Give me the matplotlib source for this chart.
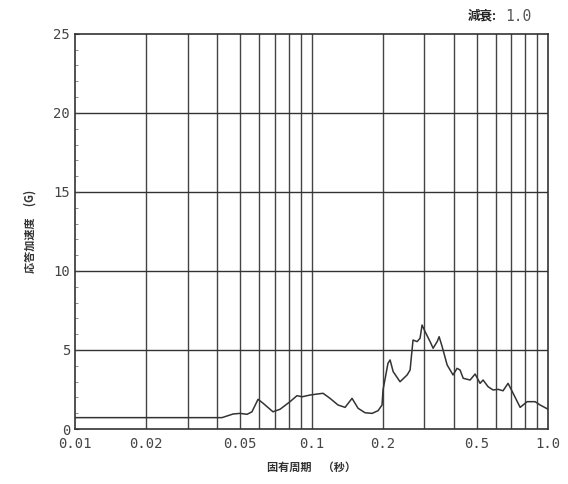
import matplotlib
matplotlib.use("Agg")
import matplotlib.pyplot as plt
from matplotlib.ticker import FixedLocator, NullFormatter

plt.rcParams['font.family'] = ['DejaVu Sans Mono', 'Noto Sans CJK JP']

period = [0.01, 0.0391, 0.0418, 0.0466, 0.0499, 0.0534, 0.0560, 0.0594, 0.0624, 0.0687,
          0.0736, 0.0811, 0.0868, 0.0912, 0.0986, 0.1065, 0.1119, 0.1197, 0.1294, 0.1386,
          0.1483, 0.1573, 0.1683, 0.1803, 0.1911, 0.1986, 0.2005, 0.2104, 0.2148, 0.2213,
          0.2366, 0.2535, 0.2609, 0.2685, 0.2793, 0.2875, 0.2932, 0.302, 0.317, 0.3265,
          0.3396, 0.3462, 0.3565, 0.3743, 0.3964, 0.4122, 0.4246, 0.4375, 0.468, 0.4913,
          0.5156, 0.531, 0.5572, 0.585, 0.6146, 0.645, 0.6772, 0.7112, 0.7618, 0.815,
          0.881, 0.925, 1.0]
accel = [0.72, 0.72, 0.72, 0.95, 0.99, 0.93, 1.09, 1.88, 1.63, 1.09,
         1.25, 1.73, 2.11, 2.04, 2.15, 2.22, 2.26, 1.94, 1.52, 1.37,
         1.94, 1.31, 1.03, 0.99, 1.16, 1.52, 2.47, 4.16, 4.37, 3.63,
         2.99, 3.42, 3.73, 5.63, 5.53, 5.74, 6.58, 6.16, 5.53, 5.11,
         5.53, 5.84, 5.21, 4.05, 3.42, 3.84, 3.73, 3.21, 3.10, 3.48,
         2.89, 3.10, 2.68, 2.47, 2.51, 2.42, 2.89, 2.26, 1.37, 1.73,
         1.73, 1.52, 1.25]

xticks = [0.01, 0.02, 0.05, 0.1, 0.2, 0.5, 1.0]
xticklabels = ['0.01', '0.02', '0.05', '0.1', '0.2', '0.5', '1.0']
yticks = [0, 5, 10, 15, 20, 25]

fig = plt.figure(figsize=(5.68, 4.84), dpi=100)
ax = fig.add_axes([0.132, 0.1136, 0.833, 0.8164])
ax.set_xscale('log')
ax.set_xlim(0.01, 1.0)
ax.set_ylim(0, 25)

vgrid = [m * d for d in (0.01, 0.1) for m in range(1, 10)][1:]
for v in vgrid:
    ax.axvline(v, color='#444444', lw=1.0, zorder=1)
for h in yticks[1:-1]:
    ax.axhline(h, color='#333333', lw=1.0, zorder=1)

ax.plot(period, accel, color='#333333', lw=1.1, zorder=3)

ax.xaxis.set_major_locator(FixedLocator(xticks))
ax.set_xticklabels(xticklabels)
ax.xaxis.set_minor_formatter(NullFormatter())
ax.xaxis.set_minor_locator(FixedLocator([]))
ax.set_yticks(yticks)
ax.yaxis.set_minor_locator(FixedLocator(range(0, 26)))
ax.tick_params(axis='both', which='major', labelsize=10, colors='#444444', length=3, direction='in')
ax.tick_params(axis='y', which='minor', length=2, direction='in', color='#777777')
ax.tick_params(axis='x', which='major', length=0, pad=6)

for s in ax.spines.values():
    s.set_color('#333333')
    s.set_linewidth(1.2)

ax.set_xlabel('固有周期　（秒）', fontsize=8, family=['Noto Sans CJK JP'], labelpad=7,
              color='#333333', fontweight='bold')
ax.set_ylabel('応答加速度　(G)', fontsize=8, family=['Noto Sans CJK JP'], labelpad=12,
              color='#333333', fontweight='bold')
fig.text(0.875, 0.966, '減衰:', fontsize=9, ha='right', va='center',
         family=['Noto Sans CJK JP'], color='#222222', fontweight='bold')
fig.text(0.889, 0.966, '1.0', fontsize=10.5, ha='left', va='center',
         family=['DejaVu Sans Mono'], color='#555555')

fig.savefig('out.png', dpi=100, facecolor='white')
